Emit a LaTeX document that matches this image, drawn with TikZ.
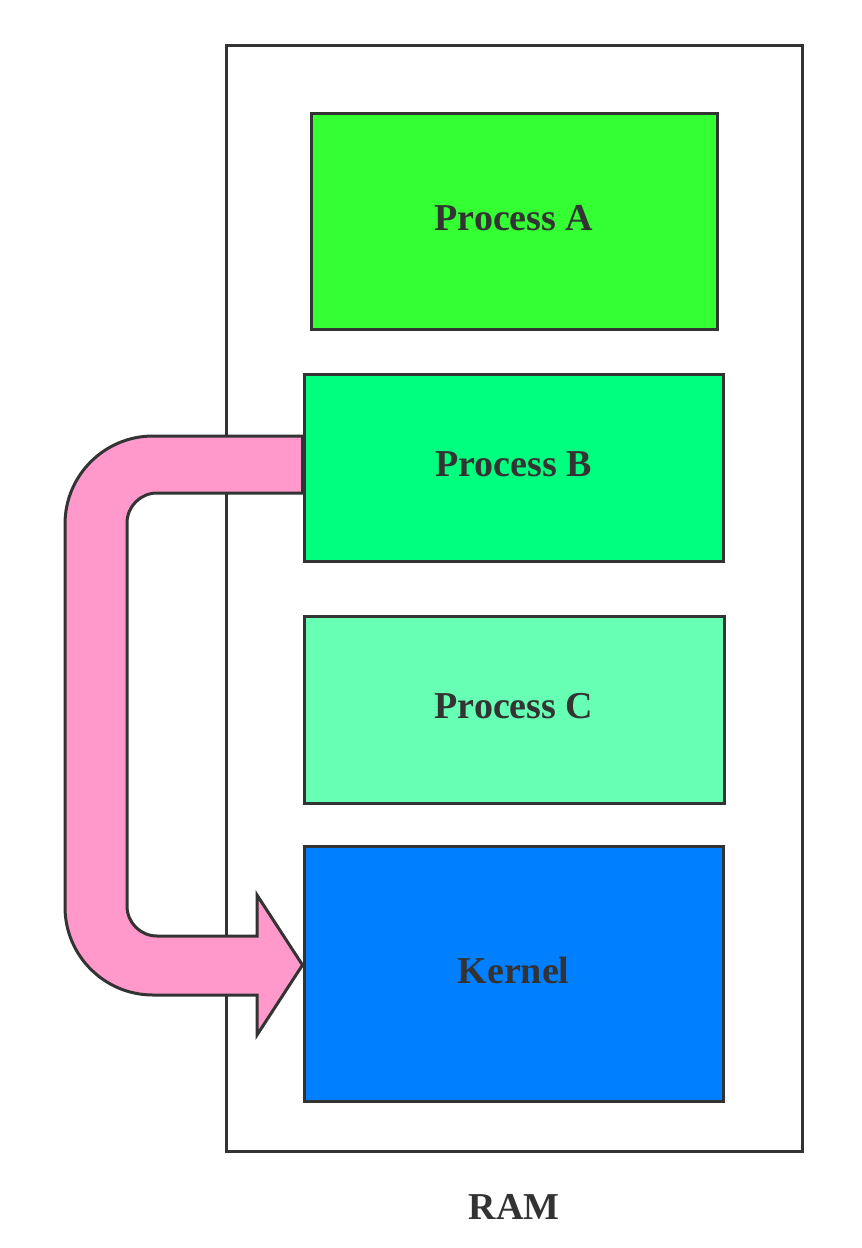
\documentclass[tikz,border=0pt]{standalone}
\usepackage{fontspec}
\setmainfont{Liberation Serif}
\usetikzlibrary{calc,backgrounds}
\definecolor{ink}{HTML}{333333}
\definecolor{procA}{HTML}{33FF33}
\definecolor{procB}{HTML}{00FF7F}
\definecolor{procC}{HTML}{66FFB3}
\definecolor{kern}{HTML}{007FFF}
\definecolor{pinkarrow}{HTML}{FF99CC}
\tikzset{
  box/.style={draw=ink, line width=3pt, inner sep=0pt, text=ink,
    font=\fontsize{38}{44}\selectfont\bfseries},
  boxlabel/.style={text=ink, font=\fontsize{38}{44}\selectfont\bfseries},
  blockarrow/.style={draw=ink, fill=pinkarrow, line width=3pt, line join=miter}
}
\begin{document}
\begin{tikzpicture}[x=1pt,y=-1pt]
\useasboundingbox (0,0) rectangle (862,1248);
% process boxes
\node[box, fill=procA, minimum width=406pt, minimum height=216pt] (A) at (514,221) {};
\node[box, fill=procB, minimum width=419pt, minimum height=187pt] (B) at (513.5,467.5) {};
\node[box, fill=procC, minimum width=420pt, minimum height=187pt] (C) at (514,709.5) {};
\node[box, fill=kern, minimum width=419pt, minimum height=255pt] (K) at (513.5,973.5) {};
\node[boxlabel] (Atext) at ($(A)+(0,-3)$) {Process A};
\node[boxlabel] (Btext) at ($(B)+(0,-3)$) {Process B};
\node[boxlabel] (Ctext) at ($(C)+(0,-3)$) {Process C};
\node[boxlabel] (Ktext) at ($(K)+(0,-3)$) {Kernel};
\node[boxlabel] (ramlabel) at (514,1207) {RAM};
\begin{scope}[on background layer]
% RAM container
\node[box, minimum width=576pt, minimum height=1106pt] (ram) at (514,598) {};
% block arrow from Process B to Kernel
\draw[blockarrow]
  ($(B.west)+(0,-31.5)$) -- (153,436)
  arc[start angle=270, end angle=180, radius=88] -- (65,907)
  arc[start angle=180, end angle=90, radius=88] -- (257,995)
  -- (257,1035) -- ($(K.west)+(0,-8.5)$) -- (257,895) -- (257,936) -- (157,936)
  arc[start angle=90, end angle=180, radius=30] -- (127,523)
  arc[start angle=180, end angle=270, radius=30] -- ($(B.west)+(0,25.5)$) -- cycle;
\end{scope}
\end{tikzpicture}
\end{document}
